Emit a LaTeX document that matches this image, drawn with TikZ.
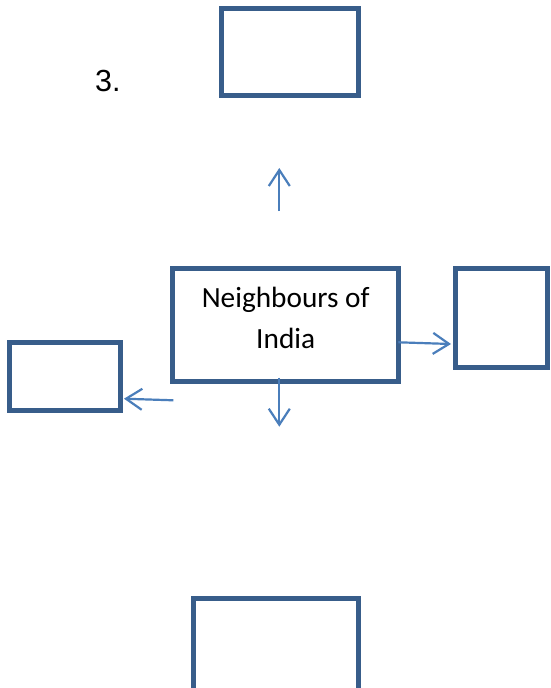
\documentclass[tikz,border=0pt]{standalone}
\usepackage{fontspec}
\setmainfont{Carlito}
\newfontfamily\numfont{Liberation Sans}
\usetikzlibrary{arrows.meta}
\definecolor{boxblue}{HTML}{385D8A}
\definecolor{arrblue}{HTML}{4A7EBB}
\tikzset{
  bx/.style={draw=boxblue, line width=5pt, rectangle, inner sep=0pt, fill=none},
  arr/.style={draw=arrblue, line width=2.2pt, -{Straight Barb[length=16pt,width=21pt]}},
}
\begin{document}
\begin{tikzpicture}[x=1pt,y=-1pt]
\useasboundingbox (0,0) rectangle (550,688);
\clip (0,0) rectangle (550,688);
\fill[white] (0,0) rectangle (550,688);
% boxes
\node[bx, minimum width=137pt, minimum height=87pt] (top) at (290,52) {};
\node[bx, minimum width=225.5pt, minimum height=113pt] (center) at (285.25,325) {};
\node[bx, minimum width=92.5pt, minimum height=99.5pt] (right) at (501.25,317.75) {};
\node[bx, minimum width=110.7pt, minimum height=68pt] (left) at (65.15,376.5) {};
\node[bx, minimum width=165pt, minimum height=110pt] (bottom) at (276,653.5) {};
% texts
\node[font=\fontsize{29.3}{40.5}\selectfont, align=center, inner sep=0pt] (label) at (285.7,318) {Neighbours of\\India};
\node[font=\numfont\fontsize{30.5}{34}\selectfont, inner sep=0pt, anchor=base west] (num) at (95,91.5) {3.};
% arrow end points
\coordinate (us) at (279.3,211);
\coordinate (ut) at (279.3,168);
\coordinate (ds) at (279.3,377.7);
\coordinate (dt) at (279.3,426.7);
\coordinate (rs) at (398.3,342.3);
\coordinate (rt) at (451,344);
\coordinate (ls) at (173.3,400.3);
\coordinate (lt) at (124,398.7);
\draw[arr] (us) -- (ut);
\draw[arr] (ds) -- (dt);
\draw[arr] (rs) -- (rt);
\draw[arr] (ls) -- (lt);
\end{tikzpicture}
\end{document}
